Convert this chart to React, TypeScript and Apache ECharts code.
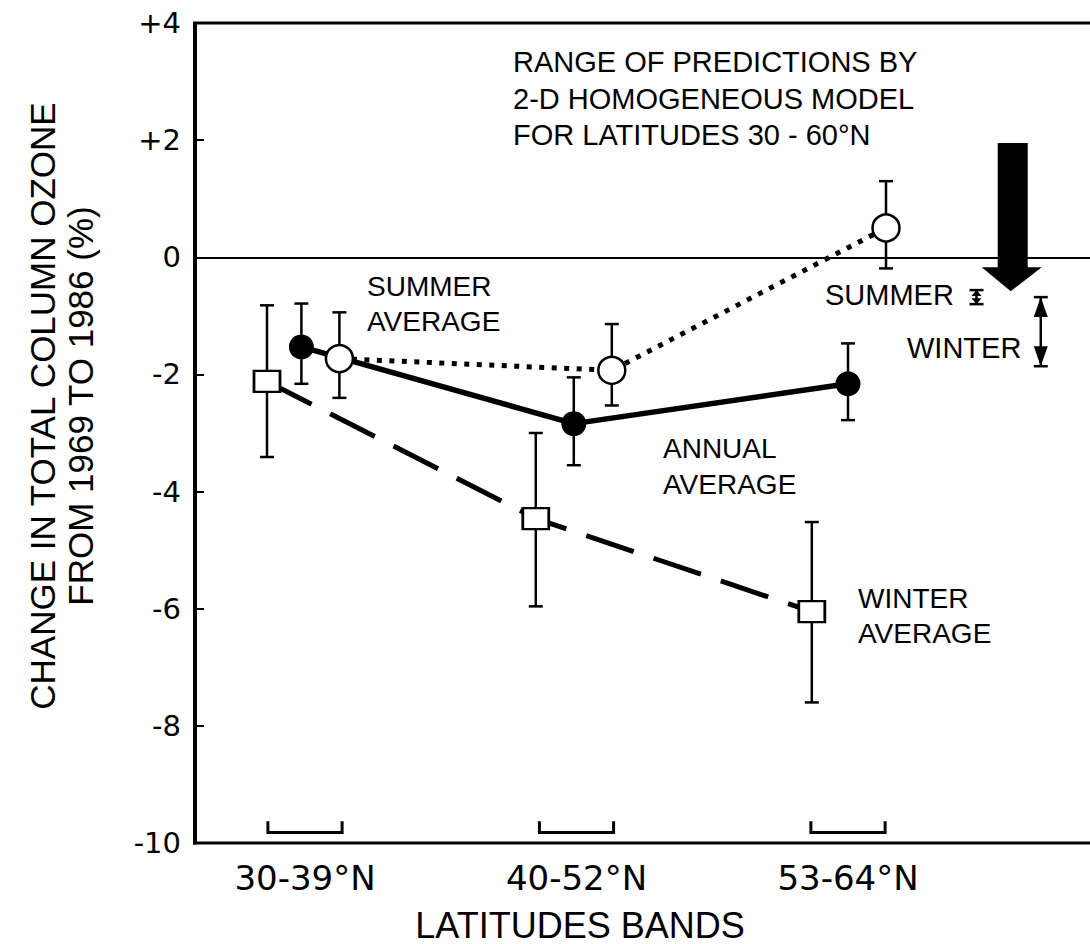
import React, { useEffect, useRef } from "react";
import * as echarts from "echarts";

// ---- Data ----
const bands = ["30-39°N", "40-52°N", "53-64°N"];
const bandCenters = [2, 5, 8];
const bandHalfWidth = 0.41;

const winterX = [1.58, 4.55, 7.6];
const winterY = [-2.12, -4.46, -6.05];
const winterHi = [-0.82, -3.0, -4.52];
const winterLo = [-3.41, -5.96, -7.6];

const annualX = [1.96, 4.97, 8.0];
const annualY = [-1.53, -2.84, -2.16];
const annualHi = [-0.79, -2.05, -1.47];
const annualLo = [-2.16, -3.55, -2.78];

const summerX = [2.38, 5.39, 8.42];
const summerY = [-1.73, -1.93, 0.5];
const summerHi = [-0.94, -1.14, 1.3];
const summerLo = [-2.4, -2.53, -0.19];

// model prediction ranges: [x, top, bottom]
const modelSummerRange = [9.42, -0.56, -0.8];
const modelWinterRange = [10.13, -0.68, -1.86];
// big arrow: [x, top, headBase, tip]
const modelArrow = [9.82, 1.95, -0.17, -0.58];

const yTicks = { min: -10, max: 4, interval: 2 };
const xRange = { min: 0.7845, max: 10.674 };

const FONT = "Liberation Sans";

export default function App() {
  const ref = useRef<HTMLDivElement>(null);

  useEffect(() => {
    if (!ref.current) return;
    const chart = echarts.init(ref.current, undefined, { renderer: "svg" });

    const blk = "#000";
    const errData = [
      ...winterX.map((x, i) => [x, winterHi[i], winterLo[i]]),
      ...annualX.map((x, i) => [x, annualHi[i], annualLo[i]]),
      ...summerX.map((x, i) => [x, summerHi[i], summerLo[i]]),
    ];

    const errorRender = (params: any, api: any) => {
      const x = api.value(0);
      const top = api.coord([x, api.value(1)]);
      const bot = api.coord([x, api.value(2)]);
      const cap = 7;
      const st = { stroke: blk, lineWidth: 2.5 };
      return {
        type: "group",
        children: [
          { type: "line", shape: { x1: top[0], y1: top[1], x2: bot[0], y2: bot[1] }, style: st },
          { type: "line", shape: { x1: top[0] - cap, y1: top[1], x2: top[0] + cap, y2: top[1] }, style: st },
          { type: "line", shape: { x1: bot[0] - cap, y1: bot[1], x2: bot[0] + cap, y2: bot[1] }, style: st },
        ],
      };
    };

    const bracketRender = (params: any, api: any) => {
      const c = api.value(0);
      const a = api.coord([c - bandHalfWidth, -9.63]);
      const b = api.coord([c + bandHalfWidth, -9.82]);
      return {
        type: "polyline",
        shape: { points: [[a[0], a[1]], [a[0], b[1]], [b[0], b[1]], [b[0], a[1]]] },
        style: { stroke: blk, lineWidth: 3, fill: null },
      };
    };

    const rangeRender = (params: any, api: any) => {
      const x = api.value(0);
      const t = api.coord([x, api.value(1)]);
      const b = api.coord([x, api.value(2)]);
      const len = b[1] - t[1];
      const h = Math.min(20, len * 0.42);
      const w = len > 30 ? 7 : 5;
      const cap = 7;
      const st = { stroke: blk, lineWidth: 2.5 };
      return {
        type: "group",
        children: [
          { type: "line", shape: { x1: t[0], y1: t[1], x2: b[0], y2: b[1] }, style: st },
          { type: "line", shape: { x1: t[0] - cap, y1: t[1], x2: t[0] + cap, y2: t[1] }, style: st },
          { type: "line", shape: { x1: b[0] - cap, y1: b[1], x2: b[0] + cap, y2: b[1] }, style: st },
          { type: "polygon", shape: { points: [[t[0], t[1]], [t[0] - w, t[1] + h], [t[0] + w, t[1] + h]] }, style: { fill: blk } },
          { type: "polygon", shape: { points: [[b[0], b[1]], [b[0] - w, b[1] - h], [b[0] + w, b[1] - h]] }, style: { fill: blk } },
        ],
      };
    };

    const arrowRender = (params: any, api: any) => {
      const x = api.value(0);
      const top = api.coord([x, api.value(1)]);
      const base = api.coord([x, api.value(2)]);
      const tip = api.coord([x, api.value(3)]);
      const sw = 15;
      const hw = 29;
      const cx = top[0];
      return {
        type: "polygon",
        shape: {
          points: [
            [cx - sw, top[1]],
            [cx + sw, top[1]],
            [cx + sw, base[1]],
            [cx + hw, base[1]],
            [cx - 2, tip[1]],
            [cx - hw - 2, base[1]],
            [cx - sw, base[1]],
          ],
        },
        style: { fill: blk },
      };
    };

    // frame drawn with a custom series: left axis, bottom axis, top border
    const frameRender = (params: any, api: any) => {
      const tl = api.coord([xRange.min, yTicks.max]);
      const bl = api.coord([xRange.min, yTicks.min]);
      const tr = api.coord([xRange.max, yTicks.max]);
      const br = api.coord([xRange.max, yTicks.min]);
      return {
        type: "group",
        children: [
          { type: "line", shape: { x1: tl[0], y1: tl[1], x2: bl[0], y2: bl[1] + 1.5 }, style: { stroke: blk, lineWidth: 4 } },
          { type: "line", shape: { x1: bl[0] - 2, y1: bl[1], x2: br[0], y2: br[1] }, style: { stroke: blk, lineWidth: 3 } },
          { type: "line", shape: { x1: tl[0] - 2, y1: tl[1], x2: tr[0], y2: tr[1] }, style: { stroke: blk, lineWidth: 3 } },
        ],
      };
    };

    const option: any = {
      animation: false,
      grid: { left: 195, right: 0, top: 23, bottom: 101, containLabel: false, outerBoundsMode: "none" },
      xAxis: {
        type: "value",
        min: xRange.min,
        max: xRange.max,
        axisLine: { show: false, onZero: false },
        axisTick: { show: false },
        splitLine: { show: false },
        axisLabel: {
          customValues: bandCenters,
          formatter: (v: number) => bands[bandCenters.indexOf(v)] ?? "",
          fontFamily: "DejaVu Sans",
          fontSize: 34,
          color: blk,
          margin: 18,
        },
      },
      yAxis: {
        type: "value",
        min: yTicks.min,
        max: yTicks.max,
        interval: yTicks.interval,
        axisLine: { show: false, onZero: false },
        axisTick: { show: true, inside: true, length: 9, lineStyle: { color: blk, width: 2 } },
        splitLine: { show: false },
        axisLabel: {
          formatter: (v: number) => (v > 0 ? "+" + v : v < 0 ? "-" + Math.abs(v) : "0"),
          fontFamily: "DejaVu Sans",
          fontSize: 29,
          color: blk,
          margin: 14,
        },
      },
      graphic: [
        {
          type: "text",
          x: 61,
          y: 406,
          rotation: Math.PI / 2,
          style: {
            text: "CHANGE IN TOTAL COLUMN OZONE\nFROM 1969 TO 1986 (%)",
            font: `35px "${FONT}"`,
            textAlign: "center",
            textVerticalAlign: "middle",
            lineHeight: 38,
            fill: blk,
          },
        },
        {
          type: "text",
          x: 580,
          y: 925,
          style: { text: "LATITUDES BANDS", font: `36px "${FONT}"`, textAlign: "center", textVerticalAlign: "middle", fill: blk },
        },
        {
          type: "text",
          x: 513,
          y: 98.5,
          style: {
            text: "RANGE OF PREDICTIONS BY\n2-D HOMOGENEOUS MODEL\nFOR LATITUDES 30 - 60°N",
            font: `29px "${FONT}"`,
            lineHeight: 36.5,
            textAlign: "left",
            textVerticalAlign: "middle",
            fill: blk,
          },
        },
        {
          type: "text",
          x: 367,
          y: 303.5,
          style: { text: "SUMMER\nAVERAGE", font: `28px "${FONT}"`, lineHeight: 35, textAlign: "left", textVerticalAlign: "middle", fill: blk },
        },
        {
          type: "text",
          x: 663,
          y: 466,
          style: { text: "ANNUAL\nAVERAGE", font: `28px "${FONT}"`, lineHeight: 36, textAlign: "left", textVerticalAlign: "middle", fill: blk },
        },
        {
          type: "text",
          x: 858,
          y: 616,
          style: { text: "WINTER\nAVERAGE", font: `28px "${FONT}"`, lineHeight: 35, textAlign: "left", textVerticalAlign: "middle", fill: blk },
        },
        {
          type: "text",
          x: 825,
          y: 295,
          style: { text: "SUMMER", font: `29px "${FONT}"`, textAlign: "left", textVerticalAlign: "middle", fill: blk },
        },
        {
          type: "text",
          x: 907,
          y: 348,
          style: { text: "WINTER", font: `29px "${FONT}"`, textAlign: "left", textVerticalAlign: "middle", fill: blk },
        },
      ],
      series: [
        {
          type: "custom",
          name: "frame",
          z: 2,
          clip: false,
          renderItem: frameRender,
          encode: { x: 0, y: 1 },
          data: [[xRange.min, yTicks.min]],
          silent: true,
        },
        {
          type: "custom",
          name: "error bars",
          z: 1,
          renderItem: errorRender,
          encode: { x: 0, y: [1, 2] },
          data: errData,
          silent: true,
        },
        {
          type: "custom",
          name: "bands",
          z: 1,
          renderItem: bracketRender,
          encode: { x: 0 },
          data: bandCenters.map((c) => [c]),
          silent: true,
        },
        {
          type: "custom",
          name: "model ranges",
          z: 1,
          renderItem: rangeRender,
          encode: { x: 0, y: [1, 2] },
          data: [modelSummerRange, modelWinterRange],
          silent: true,
        },
        {
          type: "custom",
          name: "model arrow",
          z: 1,
          renderItem: arrowRender,
          encode: { x: 0, y: [1, 2, 3] },
          data: [modelArrow],
          silent: true,
        },
        {
          type: "line",
          name: "Winter average",
          z: 3,
          data: winterX.map((x, i) => [x, winterY[i]]),
          symbol: "rect",
          symbolSize: [26, 21],
          itemStyle: { color: "#fff", borderColor: blk, borderWidth: 2.5 },
          lineStyle: { color: blk, width: 5, type: [50, 21] },
        },
        {
          type: "line",
          name: "Annual average",
          z: 3,
          data: annualX.map((x, i) => [x, annualY[i]]),
          symbol: "circle",
          symbolSize: 25,
          itemStyle: { color: blk },
          lineStyle: { color: blk, width: 5.5 },
          markLine: {
            silent: true,
            symbol: "none",
            label: { show: false },
            data: [{ yAxis: 0, lineStyle: { color: blk, width: 2, type: "solid" } }],
          },
        },
        {
          type: "line",
          name: "Summer average",
          z: 4,
          data: summerX.map((x, i) => [x, summerY[i]]),
          symbol: "circle",
          symbolSize: 27,
          itemStyle: { color: "#fff", borderColor: blk, borderWidth: 2.5 },
          lineStyle: { color: blk, width: 5, type: [5, 7.5] },
        },
      ],
    };

    chart.setOption(option);
    return () => chart.dispose();
  }, []);

  return (
    <div
      ref={ref}
      style={{ position: "absolute", left: 0, top: 0, width: 1090, height: 944, background: "#fff" }}
    />
  );
}
